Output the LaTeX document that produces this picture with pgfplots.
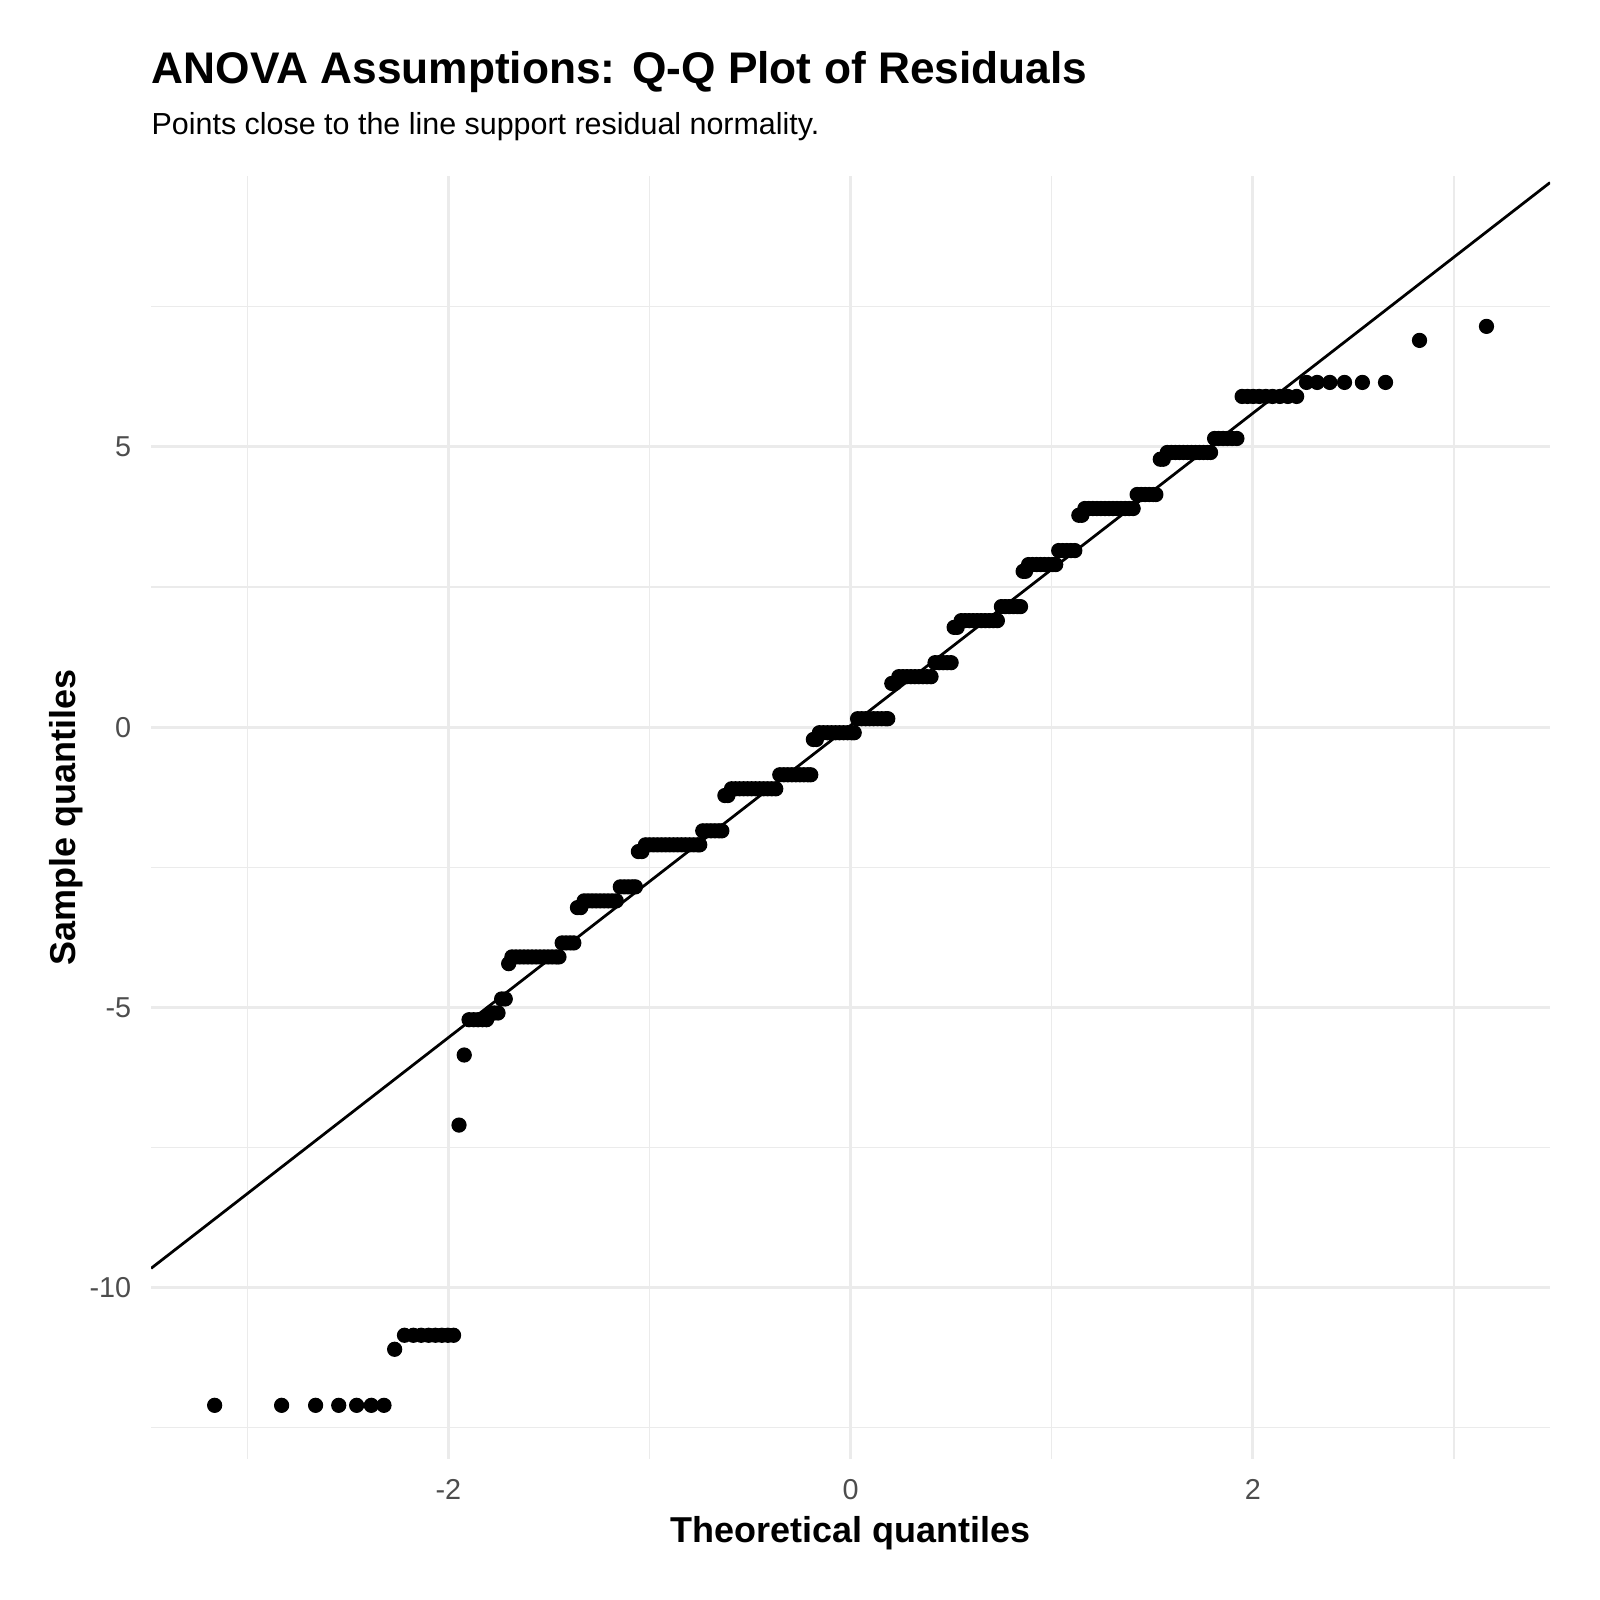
\documentclass[border=0pt]{standalone}
\usepackage{fontspec}
\setmainfont{Liberation Sans}
\usepackage{pgfplots}
\pgfplotsset{compat=1.18}
\definecolor{gridc}{HTML}{EBEBEB}
\definecolor{tickc}{HTML}{4D4D4D}
\begin{document}
\begin{tikzpicture}
\path[use as bounding box] (0,0) rectangle (578.16pt,578.16pt);
\begin{axis}[
  at={(54.6pt,50.9pt)}, anchor=south west,
  scale only axis, width=505.5pt, height=463.8pt,
  xmin=-3.478, xmax=3.478, ymin=-13.06, ymax=9.84,
  axis line style={draw=none},
  tick style={draw=none},
  xtick={-2,0,2}, xticklabels={-2,0,2},
  minor xtick={-3,-1,1,3},
  ytick={-10,-5,0,5}, yticklabels={-10,-5,0,5},
  minor ytick={-12.5,-7.5,-2.5,2.5,7.5},
  grid=both,
  major grid style={draw=gridc, line width=1.0pt},
  minor grid style={draw=gridc, line width=0.5pt},
  ticklabel style={font=\fontsize{10.4}{12}\selectfont, text=tickc},
  xticklabel style={anchor=base, yshift=-14.7pt},
  yticklabel style={anchor=east, inner sep=0pt, xshift=-7pt},
  xlabel={Theoretical quantiles},
  ylabel={Sample quantiles},
  xlabel style={font=\fontsize{13}{15}\selectfont\bfseries, at={(axis description cs:0.5,-0.0653)}, anchor=base},
  ylabel style={font=\fontsize{13}{15}\selectfont\bfseries, at={(axis description cs:-0.0541,0.5)}, anchor=base},
]
\addplot[only marks, mark=*, mark size=2.55pt, mark options={draw=none, fill=black}] table[row sep=\\] {
x y\\
-3.162 -12.10\\ -2.829 -12.10\\ -2.660 -12.10\\ -2.545 -12.10\\ -2.456 -12.10\\ -2.383 -12.10\\ -2.320 -12.10\\
-2.267 -11.10\\
-2.218 -10.85\\ -2.174 -10.85\\ -2.135 -10.85\\ -2.098 -10.85\\ -2.064 -10.85\\ -2.032 -10.85\\ -2.002 -10.85\\ -1.974 -10.85\\
-1.947 -7.10\\
-1.921 -5.85\\
-1.897 -5.22\\ -1.874 -5.22\\ -1.852 -5.22\\ -1.830 -5.22\\ -1.810 -5.22\\
-1.790 -5.10\\ -1.771 -5.10\\ -1.753 -5.10\\
-1.735 -4.85\\ -1.717 -4.85\\
-1.700 -4.22\\
-1.684 -4.10\\ -1.664 -4.10\\ -1.644 -4.10\\ -1.624 -4.10\\ -1.604 -4.10\\ -1.584 -4.10\\ -1.564 -4.10\\ -1.544 -4.10\\ -1.524 -4.10\\ -1.504 -4.10\\ -1.484 -4.10\\ -1.464 -4.10\\ -1.450 -4.10\\
-1.434 -3.85\\ -1.414 -3.85\\ -1.394 -3.85\\ -1.376 -3.85\\
-1.358 -3.22\\ -1.342 -3.22\\
-1.325 -3.10\\ -1.305 -3.10\\ -1.285 -3.10\\ -1.265 -3.10\\ -1.245 -3.10\\ -1.225 -3.10\\ -1.205 -3.10\\ -1.185 -3.10\\ -1.165 -3.10\\
-1.145 -2.85\\ -1.125 -2.85\\ -1.105 -2.85\\ -1.085 -2.85\\ -1.070 -2.85\\
-1.055 -2.22\\ -1.038 -2.22\\
-1.020 -2.10\\ -1.000 -2.10\\ -0.980 -2.10\\ -0.960 -2.10\\ -0.940 -2.10\\ -0.920 -2.10\\ -0.900 -2.10\\ -0.880 -2.10\\ -0.860 -2.10\\ -0.840 -2.10\\ -0.820 -2.10\\ -0.800 -2.10\\ -0.780 -2.10\\ -0.760 -2.10\\ -0.750 -2.10\\
-0.735 -1.85\\ -0.715 -1.85\\ -0.695 -1.85\\ -0.675 -1.85\\ -0.655 -1.85\\ -0.640 -1.85\\
-0.625 -1.22\\ -0.610 -1.22\\
-0.592 -1.10\\ -0.572 -1.10\\ -0.552 -1.10\\ -0.532 -1.10\\ -0.512 -1.10\\ -0.492 -1.10\\ -0.472 -1.10\\ -0.452 -1.10\\ -0.432 -1.10\\ -0.412 -1.10\\ -0.392 -1.10\\ -0.372 -1.10\\
-0.352 -0.85\\ -0.332 -0.85\\ -0.312 -0.85\\ -0.292 -0.85\\ -0.272 -0.85\\ -0.252 -0.85\\ -0.232 -0.85\\ -0.212 -0.85\\ -0.198 -0.85\\
-0.185 -0.22\\ -0.170 -0.22\\
-0.155 -0.10\\ -0.135 -0.10\\ -0.115 -0.10\\ -0.095 -0.10\\ -0.075 -0.10\\ -0.055 -0.10\\ -0.035 -0.10\\ -0.015 -0.10\\ 0.005 -0.10\\ 0.018 -0.10\\
0.035 0.15\\ 0.055 0.15\\ 0.075 0.15\\ 0.095 0.15\\ 0.115 0.15\\ 0.135 0.15\\ 0.155 0.15\\ 0.175 0.15\\ 0.185 0.15\\
0.205 0.78\\ 0.220 0.78\\
0.240 0.90\\ 0.260 0.90\\ 0.280 0.90\\ 0.300 0.90\\ 0.320 0.90\\ 0.340 0.90\\ 0.360 0.90\\ 0.380 0.90\\ 0.400 0.90\\
0.420 1.15\\ 0.440 1.15\\ 0.460 1.15\\ 0.480 1.15\\ 0.500 1.15\\
0.515 1.78\\ 0.530 1.78\\
0.550 1.90\\ 0.570 1.90\\ 0.590 1.90\\ 0.610 1.90\\ 0.630 1.90\\ 0.650 1.90\\ 0.670 1.90\\ 0.690 1.90\\ 0.710 1.90\\ 0.730 1.90\\
0.750 2.15\\ 0.770 2.15\\ 0.790 2.15\\ 0.810 2.15\\ 0.830 2.15\\ 0.845 2.15\\
0.858 2.78\\ 0.870 2.78\\
0.885 2.90\\ 0.905 2.90\\ 0.925 2.90\\ 0.945 2.90\\ 0.965 2.90\\ 0.985 2.90\\ 1.005 2.90\\ 1.020 2.90\\
1.035 3.15\\ 1.055 3.15\\ 1.075 3.15\\ 1.095 3.15\\ 1.115 3.15\\
1.135 3.78\\ 1.150 3.78\\
1.165 3.90\\ 1.185 3.90\\ 1.205 3.90\\ 1.225 3.90\\ 1.245 3.90\\ 1.265 3.90\\ 1.285 3.90\\ 1.305 3.90\\ 1.325 3.90\\ 1.345 3.90\\ 1.365 3.90\\ 1.385 3.90\\ 1.405 3.90\\
1.425 4.15\\ 1.445 4.15\\ 1.465 4.15\\ 1.485 4.15\\ 1.505 4.15\\ 1.518 4.15\\
1.540 4.78\\ 1.555 4.78\\
1.575 4.90\\ 1.595 4.90\\ 1.615 4.90\\ 1.635 4.90\\ 1.655 4.90\\ 1.675 4.90\\ 1.695 4.90\\ 1.715 4.90\\ 1.735 4.90\\ 1.755 4.90\\ 1.775 4.90\\ 1.790 4.90\\
1.810 5.15\\ 1.830 5.15\\ 1.852 5.15\\ 1.874 5.15\\ 1.897 5.15\\ 1.921 5.15\\
1.947 5.90\\ 1.974 5.90\\ 2.002 5.90\\ 2.032 5.90\\ 2.064 5.90\\ 2.098 5.90\\ 2.135 5.90\\ 2.174 5.90\\ 2.218 5.90\\
2.267 6.15\\ 2.320 6.15\\ 2.383 6.15\\ 2.456 6.15\\ 2.545 6.15\\ 2.660 6.15\\
2.829 6.90\\
3.162 7.15\\
};
\addplot[black, line width=1pt] coordinates {(-3.478,-9.656) (3.478,9.716)};
\end{axis}
\node[anchor=base west, inner sep=0pt, font=\fontsize{16}{19}\selectfont\bfseries] at (54.6pt,547.9pt) {ANOVA Assumptions: Q-Q Plot of Residuals};
\node[anchor=base west, inner sep=0pt, font=\fontsize{11}{13}\selectfont] at (54.6pt,529.5pt) {Points close to the line support residual normality.};
\end{tikzpicture}
\end{document}
